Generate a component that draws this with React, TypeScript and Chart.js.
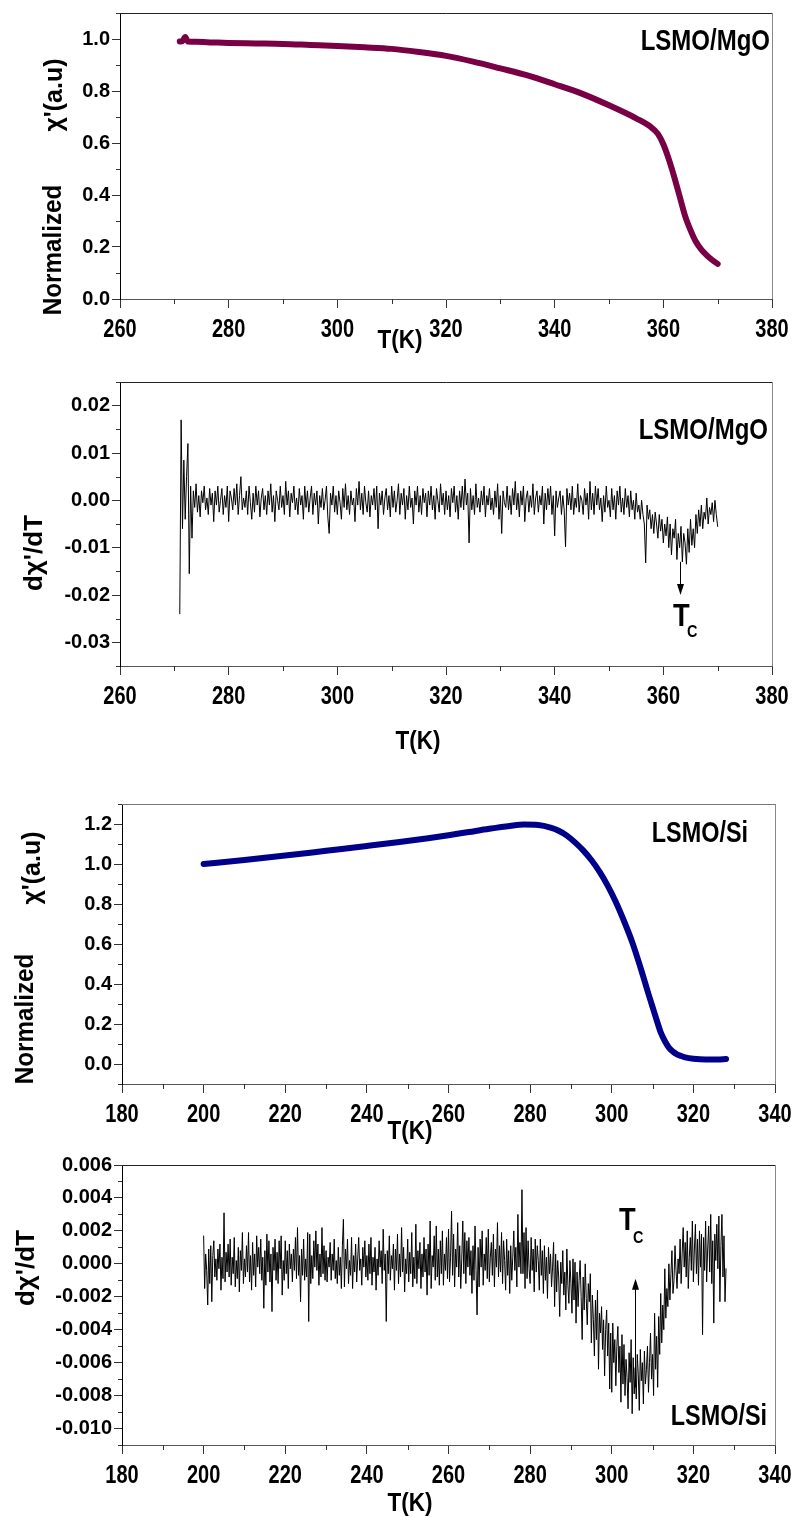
import React, { useEffect, useRef } from 'react';
import { Chart, registerables } from 'chart.js';

Chart.register(...registerables);

// ---------- DATA ----------
// Panel 1: LSMO/MgO normalized chi'
const mgoTemps = [271, 271.5, 272, 272.5, 274, 277, 280, 285, 290, 295, 300, 305, 310, 315, 320, 325, 330, 335, 340, 345, 350, 355, 357.5, 359, 360, 361, 362, 363, 364, 365, 366, 367, 368, 369, 370];
const mgoChi = [0.99, 0.992, 1.008, 0.99, 0.989, 0.987, 0.985, 0.983, 0.981, 0.977, 0.973, 0.968, 0.962, 0.95, 0.935, 0.913, 0.887, 0.86, 0.826, 0.79, 0.745, 0.695, 0.665, 0.635, 0.595, 0.538, 0.47, 0.395, 0.32, 0.265, 0.22, 0.19, 0.168, 0.15, 0.135];

// Panel 2: LSMO/MgO dchi'/dT (units of 1e-3), sampled every 0.25 K from 271 K
const mgoDerivStartT = 271;
const mgoDerivStepT = 0.25;
const mgoDerivMilli = [
  -24, 17, -6, 8.5, -4, 5, 12, -15.5,
  3, -8, 2, -1.5, 3.5, -2.5, 1, -3.5,
  2, -0.5, 3, -2, 0.5, -3, 2.5, -1,
  1.5, -4.5, 2, -1, 3, -2.5, 0, 2.5,
  -3, 1, -1.5, 3, -4.5, 2, 0.5, -2,
  2.5, -1, 3.5, -3, 1, 5, -2, 0.5,
  -1.5, 2, -3, 3, -0.5, -4, 1.5, -2.5,
  3, -1, 2, -3.5, 0.5, 2.5, -2, 1,
  -3, 2, -1, 3.5, -2.5, 1, -4.5, 2,
  0, -2, 3, -1.5, 1, -3, 4, -1,
  2, -3.5, 1.5, -0.5, 3, -2, 0.5, -3,
  2.5, -1, 1, -4, 3, -1.5, 2, -2.5,
  0.5, 3, -3, 1.5, -1, 2, -5, 1,
  -1.5, 2.5, -2, 0, 3, -3.5, -7, 1.5,
  -1, 3, -2.5, 1, -3, 2, -0.5, -4,
  2.5, -1.5, 3.5, -2, 1, -3, 2, -1,
  0.5, -4.5, 2.5, -1, 4, -2, 1.5, -3,
  3, -0.5, -2.5, 2, -3.5, 1, -1, 2.5,
  -2, 3, -6, 1.5, -1, 2, -3, 0.5,
  2.5, -2, 1, -3.5, 3, -1.5, 2, -2.5,
  0, 3.5, -3, 1.5, -1, 2.5, -4, 1,
  -2, 3, -1.5, 0.5, -5, 2, -1, 3,
  -2.5, 1, -3, 2.5, -0.5, 1.5, -3.5, 2,
  -1, 3, -2, 1, -4, 2.5, 0, -2.5,
  3.5, -1, 1.5, -3, 2, -2, 1, -3.5,
  2.5, -0.5, 3, -2.5, 1, -4, 2, -1.5,
  3, -2, 4.5, -1, 1.5, -9, 2.5, -2,
  1, -3, 3.5, -1.5, 0.5, -2.5, 2, -1,
  3, -3.5, 1, -1, 2.5, -2, 0.5, -3,
  2, -1.5, 3.5, -4, 1, -7, 2, -0.5,
  -1.5, 3, -2, 1, -3, 2.5, -1, 4,
  -2, 1.5, -3.5, 2, -1, 3, -4.5, 0.5,
  2, -2.5, 1, -1.5, 3.5, -3, 0.5, 2,
  -2.5, 1, -1, 3, -5, 1.5, -2, 2.5,
  -1, 3, -3, 1, -7.5, 2, -1.5, 0.5,
  2, -3, 1, -2, -9.8, 2.5, -1, 1.5,
  -2, 3, -3, 0.5, -1.5, 3.5, -2.5, 1,
  0, -3, 2.5, -1, 1.5, -4, 4, -2,
  1.5, -3, 3, -1, 2.5, -2, 0.5, -4.5,
  1, -2.5, 3, -1.5, 0, -3.5, 2.5, -2,
  1, -4, 2, -1, 3, -2.5, 0.5, -3,
  2.5, -1.5, 1, -3.5, 2, -2, 0, -4,
  1.5, -2.5, -1, -4, 0, -3, -5, -13.2,
  -1, -4, -2, -6, -3, -7, -2.5, -5,
  -8, -3, -6.5, -4, -9, -5, -7.5, -3.5,
  -10, -5, -11.5, -6, -8, -4, -12.5, -7,
  -10, -5.5, -13, -7, -9, -13.5, -6, -11,
  -4, -9.5, -6, -10, -3, -7, -2, -5.5,
  -1, -6, -2.5, -4, 0.5, -5, -1.5, -3,
  -0.5, -4.5, 0, -3, -5.5,
];

// Panel 3: LSMO/Si normalized chi'
const siTemps = [200, 210, 220, 230, 240, 248, 255, 260, 265, 270, 275, 278.5, 282, 285, 287, 289, 291, 293, 295, 297, 299, 301, 303, 305, 307, 308, 309, 310, 311, 312, 313, 314, 315, 316, 317, 318, 320, 323, 326, 328];
const siChi = [1.0, 1.02, 1.042, 1.066, 1.09, 1.11, 1.129, 1.144, 1.16, 1.176, 1.19, 1.197, 1.195, 1.182, 1.166, 1.142, 1.108, 1.068, 1.02, 0.962, 0.892, 0.81, 0.715, 0.61, 0.485, 0.418, 0.35, 0.285, 0.22, 0.158, 0.115, 0.082, 0.062, 0.048, 0.04, 0.033, 0.026, 0.022, 0.022, 0.025];

// Panel 4: LSMO/Si dchi'/dT (units of 1e-3), sampled every 0.25 K from 200 K
const siDerivStartT = 200;
const siDerivStepT = 0.25;
const siDerivMilli = [
  1.7, -1.5, 0.6, -0.4, -2.5, 0.9, -1.2, 1.1,
  -2.3, 0.5, 1.4, -0.8, 0.3, -1.0, 0.9, -0.3,
  1.2, -1.6, 0.4, -0.9, 3.1, -1.1, 0.7, -0.5,
  1.2, -0.8, 1.5, -1.3, 0.4, -0.6, 1.6, -1.4,
  0.2, -0.9, 1.0, -1.7, 0.8, -0.4, 1.9, -1.2,
  0.3, -0.8, 1.1, -0.5, 1.9, -1.1, 0.5, -1.6,
  1.3, -0.7, 0.6, -1.4, 1.7, -0.2, 1.0, -0.6,
  1.5, -1.0, 0.4, -2.7, 0.8, -1.3, 1.8, -0.5,
  1.4, -1.1, 0.6, -2.9, 1.0, -0.4, 1.5, -1.0,
  0.7, -1.2, 1.4, -0.3, 1.7, -1.9, 0.2, -1.0,
  1.4, -0.6, 0.8, -1.5, 1.2, -0.3, 0.6, -1.1,
  0.9, -0.4, 1.6, -0.9, 2.2, -0.7, 0.5, -2.3,
  0.9, -0.7, 1.5, -1.0, 0.3, -0.8, 1.9, -3.5,
  1.8, -1.2, 0.5, -0.9, 1.4, -0.2, 2.0, -0.4,
  1.2, -1.3, 0.6, -0.8, 2.2, -0.6, 1.1, -1.0,
  0.8, -1.1, 0.4, -0.2, 1.3, -1.0, 0.6, -0.4,
  1.5, -0.9, 0.2, -1.2, 1.0, -0.7, 0.4, -1.5,
  1.1, 2.7, -1.4, 0.9, -0.3, 1.5, -1.2, 0.2,
  -0.7, 1.6, -1.5, 0.5, -0.5, 1.2, -1.1, 0.3,
  1.6, -0.4, 0.3, -1.3, 1.0, -0.2, 1.4, -0.8,
  0.5, -1.0, 1.2, -0.6, 1.6, -1.3, 0.4, -0.5,
  1.0, -1.6, 0.3, -0.7, 1.4, -0.2, 0.8, -1.2,
  2.1, -0.4, 0.6, -3.5, 0.8, -0.6, 1.7, -1.0,
  0.5, -0.3, 1.2, -1.6, 0.9, -0.4, 1.8, -1.2,
  0.6, -0.8, 2.2, -0.5, 1.0, -1.7, 0.3, -0.6,
  1.5, -1.1, 0.7, -0.6, 1.9, -1.4, 0.4, -0.9,
  2.4, -1.2, 0.8, -0.3, 1.3, -1.5, 0.6, -0.8,
  1.6, -0.5, 0.9, -1.9, 1.2, -0.7, 2.6, -1.5,
  0.5, -0.2, 1.7, -1.0, 2.3, -0.8, 0.9, -1.3,
  1.4, -0.6, 2.0, -1.3, 0.6, -0.4, 1.6, -0.9,
  2.1, -1.1, 0.4, 3.2, -0.7, 1.8, -1.4, 0.9,
  -0.2, 2.5, -0.8, 1.1, -1.5, 0.3, 2.6, -0.6,
  1.9, -1.2, 1.4, -0.2, 1.6, -0.7, 0.8, -1.8,
  1.1, -1.0, 2.3, -0.4, -3.1, 1.0, -1.4, 1.5,
  -0.2, 2.0, -1.3, 0.6, -0.4, 1.6, -0.9, 2.1,
  -1.1, 0.4, 1.3, -0.7, 1.8, -1.4, 0.9, -0.2,
  2.5, -0.8, 1.1, -0.5, 1.9, -1.2, 1.4, 0.2,
  -1.6, 1.5, -0.7, 0.8, -1.8, 1.1, -1.0, 0.4,
  2.0, -0.4, 1.0, -1.4, 3.0, -0.2, 1.3, -0.6,
  4.5, -0.6, 1.9, -1.5, 2.2, -0.9, 1.4, -0.3,
  -1.2, 1.6, -0.4, 0.9, -1.7, 1.5, -0.5, 1.1,
  0.2, -1.6, 1.5, -0.7, 0.8, -1.8, 1.1, -1.0,
  0.4, -2.1, 1.0, -0.6, 0.6, -1.4, -0.2, 1.3,
  -2.6, 0.6, -1.7, 0.2, -0.8, -3.2, 0.1, -1.2,
  0.8, -1.9, -0.5, -2.8, 0.9, -1.3, -2.4, 0.2,
  -1.2, -3.0, 0.3, -2.2, 0.1, -3.6, -0.5, -2.6,
  -1.0, 0.2, -2.0, -4.6, -0.8, -2.8, 0.0, -2.1,
  -3.7, -1.2, -2.3, -0.6, -4.8, -1.9, -3.4, -5.6,
  -2.2, -4.6, -1.6, -6.4, -3.0, -4.2, -2.6, -5.2,
  -3.4, -6.8, -4.0, -2.8, -5.6, -3.6, -7.6, -4.2,
  -7.8, -3.6, -6.0, -4.6, -7.4, -5.0, -3.8, -6.6,
  -5.0, -8.4, -4.3, -7.3, -4.9, -8.0, -5.8, -6.9,
  -8.8, -5.4, -7.2, -4.6, -9.1, -5.7, -7.9, -6.3,
  -8.2, -5.5, -6.7, -8.9, -5.2, -7.1, -6.0, -8.5,
  -5.3, -7.3, -6.4, -5.0, -7.8, -6.0, -4.2, -7.0,
  -5.5, -8.0, -3.0, -6.4, -4.4, -7.5, -3.2, -5.5,
  -1.8, -4.8, -2.5, -4.0, -0.3, -3.3, -1.5, -2.6,
  0.0, -2.2, -0.6, 0.8, -1.8, -1.0, 1.1, -0.4,
  -1.5, 0.3, -0.6, 1.5, -1.2, 0.6, 2.2, -0.2,
  1.3, -0.8, 2.0, -1.5, 0.4, 1.6, -0.4, 2.6,
  -1.1, 0.9, 2.4, -0.6, 1.5, -1.3, 2.0, -0.2,
  1.8, -4.3, 1.6, -0.4, 2.6, -1.1, 0.9, 2.3,
  -0.5, 3.0, -1.2, 1.4, -3.6, 1.8, 0.2, 2.4,
  -0.3, 2.9, -2.3, 1.1, 3.0, -0.8, 1.7, -2.3,
  -0.3,
];

// Tick labels
const mgoXTicks = [260, 280, 300, 320, 340, 360, 380];
const siXTicks = [180, 200, 220, 240, 260, 280, 300, 320, 340];
const mgoChiYTicks = [0.0, 0.2, 0.4, 0.6, 0.8, 1.0];
const mgoDerivYTicks = [-0.03, -0.02, -0.01, 0.0, 0.01, 0.02];
const siChiYTicks = [0.0, 0.2, 0.4, 0.6, 0.8, 1.0, 1.2];
const siDerivYTicks = [-0.01, -0.008, -0.006, -0.004, -0.002, 0.0, 0.002, 0.004, 0.006];

// Tc markers (temperature, arrow start, arrow tip)
const mgoTc = { t: 363, from: -0.013, to: -0.02 };
const siTc = { t: 305.7, from: -0.0075, to: -0.0009 };

// ---------- STYLE ----------
const SANS = "'Liberation Sans', Arial, sans-serif";
const W = 796;

type TextItem = {
  text: string; x: number; y: number; font: string;
  rotate?: boolean; align?: CanvasTextAlign; baseline?: CanvasTextBaseline; sx?: number;
};

interface PanelSpec {
  top: number;
  height: number;
  area: { left: number; right: number; top: number; bottom: number };
  xMin: number; xMax: number; xTicks: number[];
  yMin: number; yMax: number; yTicks: number[]; yDec: number;
  points: { x: number; y: number }[];
  color: string;
  lineWidth: number;
  smooth: boolean;
  texts: TextItem[];
  arrow?: { t: number; from: number; to: number };
  topBorder: string;
  rightBorder: string;
}

function minorValues(ticks: number[], min: number, max: number): number[] {
  const step = ticks[1] - ticks[0];
  const out: number[] = [];
  for (let v = ticks[0] - step / 2; v <= max + 1e-12; v += step) {
    if (v >= min - 1e-12) out.push(v);
  }
  return out;
}

function Panel({ spec }: { spec: PanelSpec }) {
  const ref = useRef<HTMLCanvasElement>(null);
  useEffect(() => {
    const canvas = ref.current;
    if (!canvas) return;
    const { area } = spec;
    const deco = {
      id: 'deco',
      afterDraw(chart: any) {
        const ctx: CanvasRenderingContext2D = chart.ctx;
        const { left, right, top, bottom } = chart.chartArea;
        const xs = chart.scales.x;
        const ys = chart.scales.y;
        ctx.save();
        ctx.lineWidth = 1;
        // frame top & right
        ctx.strokeStyle = spec.topBorder;
        ctx.beginPath();
        ctx.moveTo(left, Math.round(top) + 0.5);
        ctx.lineTo(right + 1, Math.round(top) + 0.5);
        ctx.stroke();
        ctx.strokeStyle = spec.rightBorder;
        ctx.beginPath();
        ctx.moveTo(Math.round(right) + 0.5, top);
        ctx.lineTo(Math.round(right) + 0.5, bottom);
        ctx.stroke();
        // minor ticks
        ctx.strokeStyle = '#333';
        minorValues(spec.xTicks, spec.xMin, spec.xMax).forEach((v) => {
          const px = Math.round(xs.getPixelForValue(v)) + 0.5;
          ctx.beginPath();
          ctx.moveTo(px, bottom);
          ctx.lineTo(px, bottom + 5);
          ctx.stroke();
        });
        minorValues(spec.yTicks, spec.yMin, spec.yMax).forEach((v) => {
          const py = Math.round(ys.getPixelForValue(v)) + 0.5;
          ctx.beginPath();
          ctx.moveTo(left - 4, py);
          ctx.lineTo(left, py);
          ctx.stroke();
        });
        // condensed x tick labels, placed by the x scale
        ctx.fillStyle = '#000';
        spec.xTicks.forEach((v) => {
          const px = xs.getPixelForValue(v);
          ctx.save();
          ctx.translate(px, bottom + 31);
          ctx.scale(0.8, 1);
          ctx.font = `bold 25px ${SANS}`;
          ctx.textAlign = 'center';
          ctx.textBaseline = 'middle';
          ctx.fillText(String(v), 0, 0);
          ctx.restore();
        });
        // Tc arrow
        if (spec.arrow) {
          const ax = Math.round(xs.getPixelForValue(spec.arrow.t)) + 0.5;
          const y1 = ys.getPixelForValue(spec.arrow.from);
          const y2 = ys.getPixelForValue(spec.arrow.to);
          const dir = y2 > y1 ? 1 : -1;
          ctx.strokeStyle = '#000';
          ctx.fillStyle = '#000';
          ctx.beginPath();
          ctx.moveTo(ax, y1);
          ctx.lineTo(ax, y2 - dir * 8);
          ctx.stroke();
          ctx.beginPath();
          ctx.moveTo(ax, y2);
          ctx.lineTo(ax - 3.5, y2 - dir * 11);
          ctx.lineTo(ax + 3.5, y2 - dir * 11);
          ctx.closePath();
          ctx.fill();
        }
        // texts
        ctx.fillStyle = '#000';
        spec.texts.forEach((t) => {
          ctx.save();
          ctx.font = t.font;
          ctx.translate(t.x, t.y);
          if (t.rotate) {
            ctx.rotate(-Math.PI / 2);
            ctx.scale(t.sx || 1, 1);
            ctx.textAlign = 'center';
            ctx.textBaseline = 'middle';
          } else {
            ctx.scale(t.sx || 1, 1);
            ctx.textAlign = t.align || 'center';
            ctx.textBaseline = t.baseline || 'middle';
          }
          ctx.fillText(t.text, 0, 0);
          ctx.restore();
        });
        ctx.restore();
      },
    };

    const chart = new Chart(canvas, {
      type: 'line',
      data: {
        datasets: [
          {
            data: spec.points,
            borderColor: spec.color,
            backgroundColor: spec.color,
            borderWidth: spec.lineWidth,
            pointRadius: 0,
            fill: false,
            tension: spec.smooth ? 0.4 : 0,
            cubicInterpolationMode: spec.smooth ? 'monotone' : 'default',
            borderJoinStyle: 'round',
            borderCapStyle: 'round',
          } as any,
        ],
      },
      options: {
        responsive: false,
        animation: false,
        devicePixelRatio: 1,
        events: [],
        parsing: false as any,
        layout: { padding: { left: 0, right: W - area.right, top: area.top, bottom: 0 } },
        plugins: { legend: { display: false }, tooltip: { enabled: false }, title: { display: false } },
        scales: {
          x: {
            type: 'linear',
            min: spec.xMin,
            max: spec.xMax,
            afterBuildTicks: (s: any) => {
              s.ticks = spec.xTicks.map((v) => ({ value: v }));
            },
            afterFit: (s: any) => {
              s.height = spec.height - area.bottom;
              s.paddingLeft = 0;
              s.paddingRight = 0;
            },
            grid: { display: true, drawOnChartArea: false, drawTicks: true, tickLength: 9, color: '#333', lineWidth: 1 },
            border: { display: true, color: '#555', width: 1 },
            ticks: { display: false, autoSkip: false, maxRotation: 0, minRotation: 0 },
          },
          y: {
            type: 'linear',
            min: spec.yMin,
            max: spec.yMax,
            afterBuildTicks: (s: any) => {
              s.ticks = spec.yTicks.map((v) => ({ value: v }));
            },
            afterFit: (s: any) => {
              s.width = area.left;
              s.paddingTop = 0;
              s.paddingBottom = 0;
            },
            grid: { display: true, drawOnChartArea: false, drawTicks: true, tickLength: 8, color: '#333', lineWidth: 1 },
            border: { display: true, color: '#000', width: 1 },
            ticks: {
              autoSkip: false,
              padding: 2,
              color: '#000',
              font: { family: SANS, size: 20, weight: 'bold' },
              callback: (v: any) => Number(v).toFixed(spec.yDec),
            },
          },
        },
      },
      plugins: [deco],
    });
    return () => chart.destroy();
  }, [spec]);
  return (
    <canvas
      ref={ref}
      width={W}
      height={spec.height}
      style={{ position: 'absolute', left: 0, top: spec.top, width: W, height: spec.height, display: 'block' }}
    />
  );
}

const toPoints = (xs: number[], ys: number[]) => xs.map((x, i) => ({ x, y: ys[i] }));
const gridPoints = (start: number, step: number, milli: number[]) =>
  milli.map((v, i) => ({ x: start + step * i, y: v / 1000 }));

const panels: PanelSpec[] = [
  {
    top: 0,
    height: 370,
    area: { left: 120, right: 772, top: 13, bottom: 299 },
    xMin: 260, xMax: 380, xTicks: mgoXTicks,
    yMin: 0, yMax: 1.1, yTicks: mgoChiYTicks, yDec: 1,
    points: toPoints(mgoTemps, mgoChi),
    color: '#7a0046', lineWidth: 6, smooth: true,
    texts: [
      { text: 'Normalized', x: 54, y: 250, font: `bold 25px ${SANS}`, rotate: true, sx: 0.97 },
      { text: "\u03c7'(a.u)", x: 55, y: 95, font: `bold 25px ${SANS}`, rotate: true },
      { text: 'T(K)', x: 400, y: 341, font: `bold 25px ${SANS}`, sx: 0.9 },
      { text: 'LSMO/MgO', x: 770, y: 50, font: `bold 30px ${SANS}`, align: 'right', baseline: 'alphabetic', sx: 0.8 },
    ],
    topBorder: '#222', rightBorder: '#888',
  },
  {
    top: 370,
    height: 400,
    area: { left: 120, right: 772, top: 12, bottom: 296 },
    xMin: 260, xMax: 380, xTicks: mgoXTicks,
    yMin: -0.035, yMax: 0.025, yTicks: mgoDerivYTicks, yDec: 2,
    points: gridPoints(mgoDerivStartT, mgoDerivStepT, mgoDerivMilli),
    color: '#000', lineWidth: 1, smooth: false,
    texts: [
      { text: "d\u03c7'/dT", x: 35, y: 183, font: `bold 26px ${SANS}`, rotate: true },
      { text: 'T(K)', x: 418, y: 372, font: `bold 25px ${SANS}`, sx: 0.9 },
      { text: 'LSMO/MgO', x: 768, y: 69, font: `bold 30px ${SANS}`, align: 'right', baseline: 'alphabetic', sx: 0.8 },
      { text: 'T', x: 673, y: 256, font: `bold 31px ${SANS}`, align: 'left', baseline: 'alphabetic', sx: 0.88 },
      { text: 'C', x: 687, y: 267, font: `bold 17px ${SANS}`, align: 'left', baseline: 'alphabetic', sx: 0.85 },
    ],
    arrow: mgoTc,
    topBorder: '#222', rightBorder: '#888',
  },
  {
    top: 780,
    height: 370,
    area: { left: 122, right: 775, top: 24, bottom: 304 },
    xMin: 180, xMax: 340, xTicks: siXTicks,
    yMin: -0.1, yMax: 1.3, yTicks: siChiYTicks, yDec: 1,
    points: toPoints(siTemps, siChi),
    color: '#00008a', lineWidth: 6, smooth: true,
    texts: [
      { text: 'Normalized', x: 26, y: 239, font: `bold 25px ${SANS}`, rotate: true, sx: 0.97 },
      { text: "\u03c7'(a.u)", x: 33, y: 88, font: `bold 25px ${SANS}`, rotate: true },
      { text: 'T(K)', x: 410, y: 352, font: `bold 25px ${SANS}`, sx: 0.9 },
      { text: 'LSMO/Si', x: 748, y: 62, font: `bold 30px ${SANS}`, align: 'right', baseline: 'alphabetic', sx: 0.78 },
    ],
    topBorder: '#777', rightBorder: '#888',
  },
  {
    top: 1150,
    height: 367,
    area: { left: 122, right: 775, top: 15, bottom: 295 },
    xMin: 180, xMax: 340, xTicks: siXTicks,
    yMin: -0.011, yMax: 0.006, yTicks: siDerivYTicks, yDec: 3,
    points: gridPoints(siDerivStartT, siDerivStepT, siDerivMilli),
    color: '#000', lineWidth: 1, smooth: false,
    texts: [
      { text: "d\u03c7'/dT", x: 27, y: 118, font: `bold 26px ${SANS}`, rotate: true },
      { text: 'T(K)', x: 410, y: 354, font: `bold 25px ${SANS}`, sx: 0.9 },
      { text: 'LSMO/Si', x: 767, y: 275, font: `bold 30px ${SANS}`, align: 'right', baseline: 'alphabetic', sx: 0.78 },
      { text: 'T', x: 619, y: 80, font: `bold 31px ${SANS}`, align: 'left', baseline: 'alphabetic', sx: 0.88 },
      { text: 'C', x: 633, y: 93, font: `bold 17px ${SANS}`, align: 'left', baseline: 'alphabetic', sx: 0.85 },
    ],
    arrow: siTc,
    topBorder: '#222', rightBorder: '#888',
  },
];

export default function App() {
  return (
    <div style={{ position: 'absolute', left: 0, top: 0, width: W, height: 1517, background: '#fff', overflow: 'hidden' }}>
      {panels.map((p, i) => (
        <Panel key={i} spec={p} />
      ))}
    </div>
  );
}
